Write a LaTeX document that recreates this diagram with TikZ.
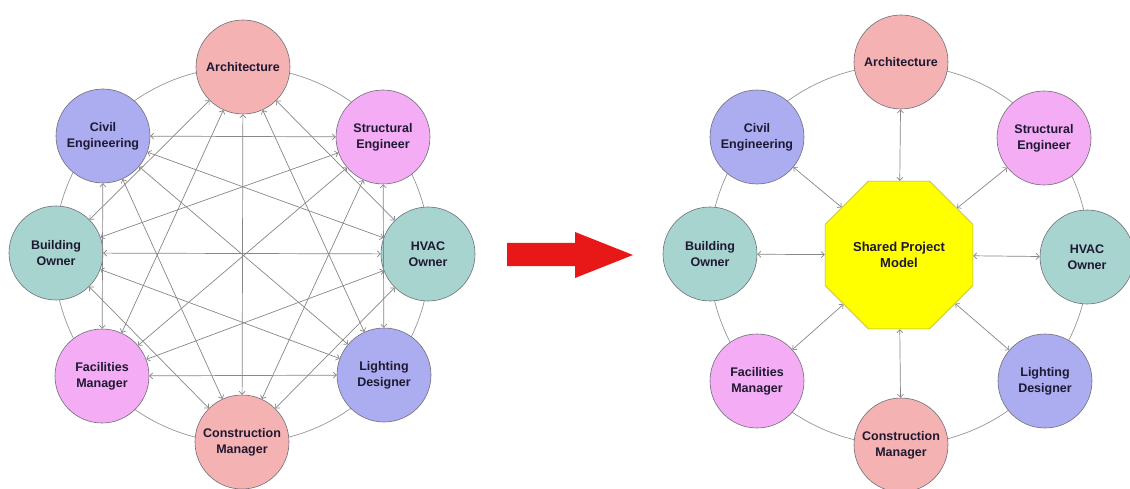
\documentclass[tikz,border=0pt]{standalone}
\usepackage{fontspec}
\setmainfont{Liberation Sans}
\usetikzlibrary{arrows.meta,shapes.geometric}
\definecolor{archc}{RGB}{245,178,178}
\definecolor{civc}{RGB}{172,172,240}
\definecolor{strc}{RGB}{244,172,244}
\definecolor{bldc}{RGB}{168,212,208}
\definecolor{octc}{RGB}{255,255,0}
\definecolor{octb}{RGB}{175,175,60}
\definecolor{linec}{RGB}{135,135,135}
\definecolor{ringc}{RGB}{150,150,150}
\definecolor{nodeb}{RGB}{110,110,120}
\definecolor{txtc}{RGB}{30,25,50}
\definecolor{arrowred}{RGB}{232,24,24}
\begin{document}
\begin{tikzpicture}[x=1pt,y=-1pt,
  party/.style={circle, draw=nodeb, line width=0.6pt, minimum size=94pt, inner sep=0pt,
    align=center, text=txtc, font=\bfseries\fontsize{12.5}{16}\selectfont},
  link/.style={draw=linec, line width=0.7pt,
    {Straight Barb[length=3pt,width=6pt]}-{Straight Barb[length=3pt,width=6pt]}},
  ring/.style={draw=ringc, line width=0.7pt},
  hub/.style={regular polygon, regular polygon sides=8, minimum size=160pt, inner sep=0pt,
    fill=octc, draw=octb, line width=0.6pt, align=center, text=txtc,
    font=\bfseries\fontsize{13}{16}\selectfont}]
\useasboundingbox[fill=white] (0,0) rectangle (1130,489);

% ---------- left: everyone to everyone ----------
\draw[ring] (242,255) circle[radius=188pt];
\node[party, fill=archc] (a) at (243,67) {Architecture};
\node[party, fill=strc]  (s) at (383,137) {Structural\\Engineer};
\node[party, fill=bldc]  (h) at (428,254) {HVAC\\Owner};
\node[party, fill=civc]  (l) at (384,375) {Lighting\\Designer};
\node[party, fill=archc] (c) at (242,442) {Construction\\Manager};
\node[party, fill=strc]  (f) at (102,376) {Facilities\\Manager};
\node[party, fill=bldc]  (b) at (56,253) {Building\\Owner};
\node[party, fill=civc]  (v) at (103,136) {Civil\\Engineering};
\foreach \p/\q in {a/h,a/l,a/c,a/f,a/b,
                   s/l,s/c,s/f,s/b,s/v,
                   h/c,h/f,h/b,h/v,
                   l/f,l/b,l/v,
                   c/b,c/v,
                   f/v}
  \draw[link] (\p) -- (\q);

% ---------- middle arrow ----------
\fill[arrowred] (507,243) -- (575,243) -- (575,232) -- (633,255) -- (575,278)
  -- (575,266) -- (507,266) -- cycle;

% ---------- right: shared model ----------
\draw[ring] (899,255) circle[radius=190pt];
\node[party, fill=archc] (ra) at (901,62) {Architecture};
\node[party, fill=strc]  (rs) at (1044,138) {Structural\\Engineer};
\node[party, fill=bldc]  (rh) at (1087,257) {HVAC\\Owner};
\node[party, fill=civc]  (rl) at (1045,381) {Lighting\\Designer};
\node[party, fill=archc] (rc) at (901,445) {Construction\\Manager};
\node[party, fill=strc]  (rf) at (757,381) {Facilities\\Manager};
\node[party, fill=bldc]  (rb) at (710,254) {Building\\Owner};
\node[party, fill=civc]  (rv) at (757,137) {Civil\\Engineering};
\node[hub] (m) at (899,255) {Shared Project\\Model};
\foreach \n in {ra,rs,rh,rl,rc,rf,rb,rv}
  \draw[link] (m) -- (\n);
\end{tikzpicture}
\end{document}
